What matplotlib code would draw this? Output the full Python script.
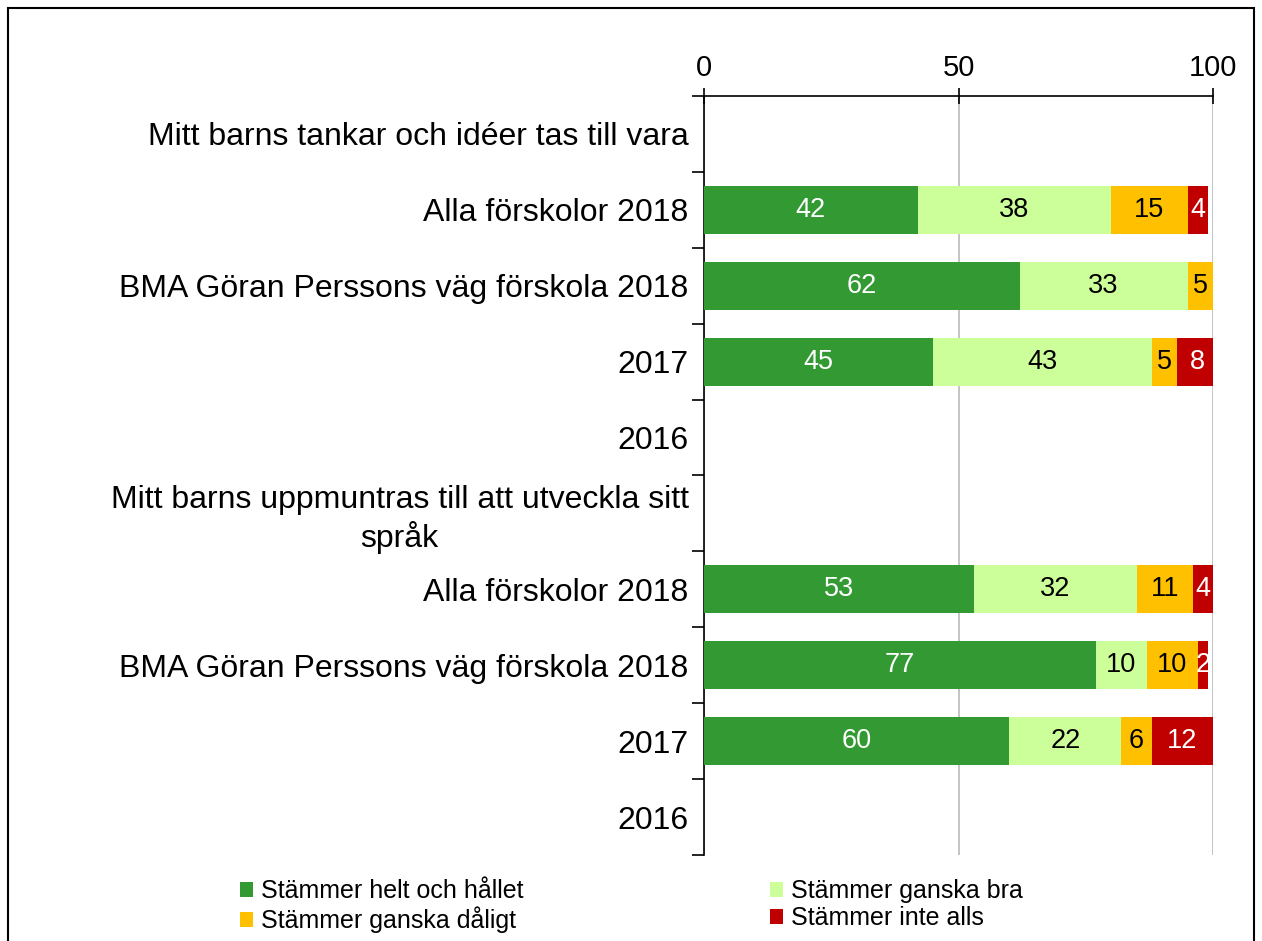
import numpy as np
import matplotlib
matplotlib.use('Agg')
matplotlib.rcParams['font.family'] = ['Liberation Sans', 'DejaVu Sans']
import matplotlib.pyplot as plt
from matplotlib.patches import Rectangle

# ---- data (top to bottom) ----
categories = [
    "Mitt barns tankar och idéer tas till vara",
    "Alla förskolor 2018",
    "BMA Göran Perssons väg förskola 2018",
    "2017",
    "2016",
    "Mitt barns uppmuntras till att utveckla sitt\nspråk",
    "Alla förskolor 2018",
    "BMA Göran Perssons väg förskola 2018",
    "2017",
    "2016",
]
nan = np.nan
helt = [nan, 42, 62, 45, nan, nan, 53, 77, 60, nan]
bra = [nan, 38, 33, 43, nan, nan, 32, 10, 22, nan]
daligt = [nan, 15, 5, 5, nan, nan, 11, 10, 6, nan]
inte = [nan, 4, nan, 8, nan, nan, 4, 2, 12, nan]

series_names = ["Stämmer helt och hållet", "Stämmer ganska bra",
                "Stämmer ganska dåligt", "Stämmer inte alls"]
series = [helt, bra, daligt, inte]
colors = ['#339933', '#CCFF99', '#FFC000', '#C00000']
text_colors = ['white', 'black', 'black', 'white']

fig = plt.figure(figsize=(12.62, 9.41), dpi=100)
ax = fig.add_axes([704 / 1262, 1 - 855 / 941, (1213 - 704) / 1262, (855 - 96) / 941])

y = np.arange(len(categories))
left = np.zeros(len(categories))
handles = []
for vals, name, c, tc in zip(series, series_names, colors, text_colors):
    v = np.array(vals, dtype=float)
    w = np.nan_to_num(v)
    bars = ax.barh(y, w, left=left, height=0.63, color=c, label=name, zorder=3)
    handles.append(bars)
    for yi, (vi, li) in enumerate(zip(v, left)):
        if not np.isnan(vi) and vi > 0:
            ax.text(li + vi / 2, yi, f"{vi:.0f}", ha='center', va='center',
                    fontsize=19.5, color=tc, zorder=4)
    left = left + w

ax.set_xlim(0, 100)
ax.set_ylim(len(categories) - 0.5, -0.5)

# x axis on top
ax.xaxis.tick_top()
ax.set_xticks([0, 50, 100])
ax.tick_params(axis='x', direction='inout', length=12, width=1.2, labelsize=21, pad=4)
ax.grid(axis='x', color='#BFBFBF', linewidth=1.3, zorder=0)

# y ticks at category boundaries, labels centered
ax.set_yticks(y)
ax.set_yticklabels(categories, fontsize=23)
for lbl in ax.get_yticklabels():
    lbl.set_multialignment('center')
ax.tick_params(axis='y', which='major', length=0, pad=11)
ax.set_yticks(np.arange(-0.5, len(categories)), minor=True)
ax.tick_params(axis='y', which='minor', direction='out', length=9, width=1.2)

for side in ['right', 'bottom']:
    ax.spines[side].set_visible(False)
ax.spines['top'].set_linewidth(1.2)
ax.spines['left'].set_linewidth(1.2)

# legend filled row by row: helt, bra / daligt, inte
order = [0, 2, 1, 3]
fig.legend(handles=[handles[i] for i in order],
           labels=[series_names[i] for i in order], loc='lower left',
           bbox_to_anchor=(222 / 1262, -0.01), ncol=2, frameon=False,
           fontsize=18, handlelength=0.55, handleheight=0.55, handletextpad=0.3,
           columnspacing=9.85, labelspacing=0.12, borderaxespad=0.3)

# figure border
fig.patches.append(Rectangle((8 / 1262, -0.05), (1254 - 8) / 1262, 1 - 8 / 941 + 0.05,
                             transform=fig.transFigure, fill=False,
                             edgecolor='black', linewidth=1.5))

fig.savefig('out.png', dpi=100, facecolor='white')
